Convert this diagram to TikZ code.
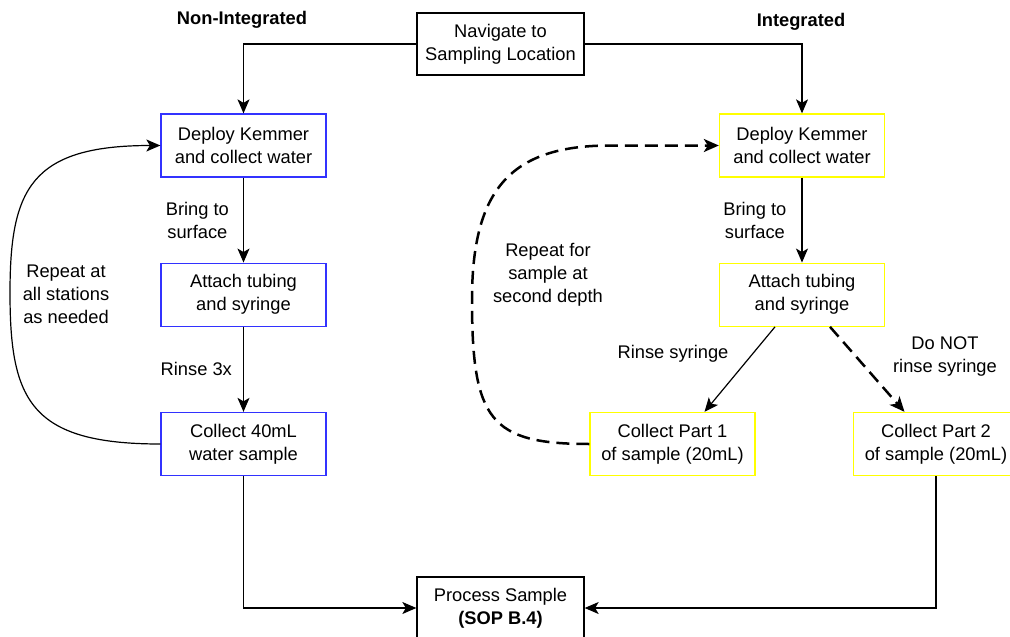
\documentclass[tikz,border=0pt]{standalone}
\usepackage{fontspec}
\setmainfont{Liberation Sans}
\usetikzlibrary{arrows.meta}
\definecolor{edgeblue}{RGB}{50,50,255}
\definecolor{edgeyellow}{RGB}{255,255,0}
\begin{document}
\begin{tikzpicture}[x=1pt, y=-1pt,
    box/.style={draw, line width=1.3pt, minimum width=165pt, minimum height=63pt,
        align=center, font=\fontsize{18.3}{23}\selectfont},
    bluebox/.style={box, draw=edgeblue},
    yellowbox/.style={box, draw=edgeyellow},
    arr/.style={-{Stealth[length=14pt, width=12pt, inset=3.5pt]}, line width=1.2pt},
    dasharr/.style={-{Stealth[length=15pt, width=13pt, inset=4pt]}, line width=2.5pt,
        dash pattern=on 13pt off 7pt},
    lbl/.style={align=center, inner sep=0pt, font=\fontsize{18.3}{23}\selectfont},
    head/.style={font=\bfseries\fontsize{18.3}{23}\selectfont}]
    \useasboundingbox (0,0) rectangle (1010,637);
    \node [head] (nonint) at (242,20) {Non-Integrated};
    \node [head] (integ) at (801,22) {Integrated};
    \node [box, minimum width=167pt, minimum height=62pt] (nav) at (500.5,44) {Navigate to\\Sampling Location};
    \node [bluebox] (bdeploy) at (243.5,145.5) {Deploy Kemmer\\and collect water};
    \node [bluebox] (battach) at (243.5,294.7) {Attach tubing\\and syringe};
    \node [bluebox] (bcollect) at (243.5,444) {Collect 40mL\\water sample};
    \node [yellowbox] (ydeploy) at (802,145.5) {Deploy Kemmer\\and collect water};
    \node [yellowbox] (yattach) at (802,294.7) {Attach tubing\\and syringe};
    \node [yellowbox] (ypart1) at (672.5,444) {Collect Part 1\\of sample (20mL)};
    \node [yellowbox] (ypart2) at (936,444) {Collect Part 2\\of sample (20mL)};
    \node [box, minimum width=167pt, minimum height=62pt] (process) at (500.5,608) {Process Sample\\\textbf{(SOP B.4)}};
    \node [lbl] (repeatb) at (66,294) {Repeat at\\all stations\\as needed};
    \node [lbl] (repeaty) at (548,275) {Repeat for\\sample at\\second depth};
    \node [lbl] (rinsey) at (673,354) {Rinse syringe};
    \node [lbl] (norinse) at (945,357) {Do NOT\\rinse syringe};
    \draw [arr] (nav.west) -| (bdeploy.north);
    \draw [arr] (nav.east) -| (ydeploy.north);
    \draw [arr] (bdeploy) -- node [lbl, left=14pt] {Bring to\\surface} (battach);
    \draw [arr] (battach) -- node [lbl, left=11pt] {Rinse 3x} (bcollect);
    \draw [arr] (ydeploy) -- node [lbl, left=15pt] {Bring to\\surface} (yattach);
    \draw [arr] ([xshift=-27pt]yattach.south) -- ([xshift=32pt]ypart1.north);
    \draw [dasharr] ([xshift=28pt]yattach.south) -- ([xshift=-31.5pt]ypart2.north);
    \draw [arr] (bcollect.west) .. controls (30,444) and (10,400) .. (10,293)
        .. controls (10,190) and (30,145.5) .. (bdeploy.west);
    \draw [dasharr] (ypart1.west) .. controls (490,444) and (472,420) .. (472,300)
        .. controls (472,190) and (510,145.5) .. (610,145.5) -- (ydeploy.west);
    \draw [arr] (bcollect.south) |- (process.west);
    \draw [arr] (ypart2.south) |- (process.east);
\end{tikzpicture}
\end{document}
